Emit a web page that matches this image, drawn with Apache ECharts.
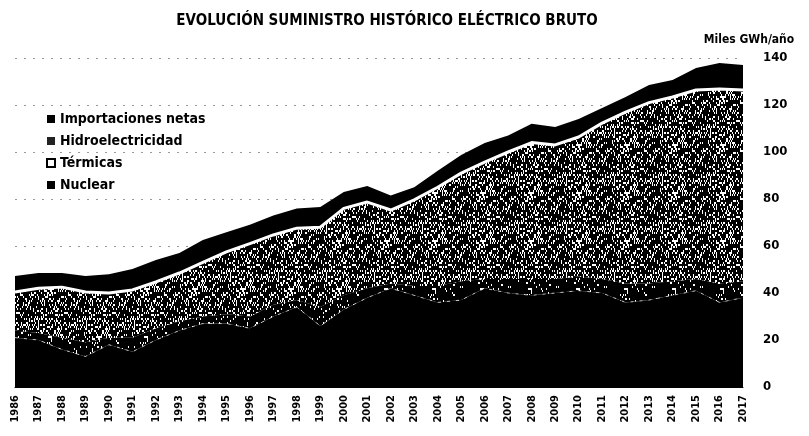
<!DOCTYPE html>
<html>
<head>
<meta charset="utf-8">
<script src="https://cdn.jsdelivr.net/npm/echarts@6/dist/echarts.min.js"></script>
<style>
html,body{margin:0;padding:0;background:#fff;}
#js-chart{width:809px;height:436px;}
</style>
</head>
<body>
<div id="js-chart"></div>
<script>
var years = ['1986','1987','1988','1989','1990','1991','1992','1993','1994','1995','1996','1997','1998','1999','2000','2001','2002','2003','2004','2005','2006','2007','2008','2009','2010','2011','2012','2013','2014','2015','2016','2017'];

// Miles GWh/año
var nuclear = [21,20,16,13,18,15,20,24,27,27,25,30,34,26,33,38,42,39,36,37,42,40,39,40,41,40,36,37,39,41,36,38];
var termicas = [3,3,5,6,3,6,5,4,3,4,5,5,3,8,6,4,2,4,7,8,4,6,7,6,6,6,8,7,6,5,8,7];
var hidro = [16.4,19,21.5,21.4,19,20.3,19.7,20.5,23,26.5,31,29.7,30.6,34,37,36.7,31.3,36.6,42,46,49.7,54,58,57,59.4,66.3,73,77,78.4,80.4,82.8,81.4];
var importaciones = [6.8,6.5,6,6.8,8,8.9,9.3,8.5,9.6,8.3,8,8.3,8.4,8.6,7,6.8,6.2,5.4,7,7.7,8.1,7,8,7.6,7.6,6.4,6.4,7.5,7.2,9.3,11.1,10.6];

var yTicks = [0,20,40,60,80,100,120,140];

initChart();

// trama de puntos blancos sobre negro (patrón fijo, no son datos)
function makePattern(density){
	var n = 48;
	var c = document.createElement('canvas');
	c.width = n; c.height = n;
	var ctx = c.getContext('2d');
	ctx.fillStyle = '#000';
	ctx.fillRect(0, 0, n, n);
	ctx.fillStyle = '#fff';
	for (var i = 0; i < n; i++) {
		for (var j = 0; j < n; j += 2) {
			var h = ((i * 374761393) ^ (j * 668265263)) >>> 0;
			h = ((h ^ (h >>> 13)) * 1274126177) >>> 0;
			if ((h % 100) < density) {
				ctx.fillRect(i, j, 1, 2);
			}
		}
	}
	return c;
}

function initChart(){
	var font = "'Liberation Sans Narrow','DejaVu Sans Condensed','Liberation Sans',sans-serif";
	var chart = echarts.init(document.getElementById('js-chart'));
	var option = {
		animation: false,
		backgroundColor: '#fff',
		title: {
			text: 'EVOLUCIÓN SUMINISTRO HISTÓRICO ELÉCTRICO BRUTO',
			left: 382,
			top: 9,
			textAlign: 'center',
			textStyle: {fontFamily: font, fontSize: 15, fontWeight: 'bold', color: '#000'}
		},
		legend: {
			orient: 'vertical',
			left: 41,
			top: 107,
			itemWidth: 8,
			itemHeight: 8,
			itemGap: 8,
			textStyle: {fontFamily: font, fontSize: 14, fontWeight: 'bold', color: '#000'},
			data: [
				{name: 'Importaciones netas', icon: 'rect', itemStyle: {color: '#000'}},
				{name: 'Hidroelectricidad', icon: 'rect', itemStyle: {color: '#222'}},
				{name: 'Térmicas', icon: 'rect', itemStyle: {color: '#fff', borderColor: '#000', borderWidth: 2}},
				{name: 'Nuclear', icon: 'rect', itemStyle: {color: '#000'}}
			]
		},
		grid: {left: 15, right: 66, top: 58, bottom: 49},
		xAxis: {
			type: 'category',
			data: years,
			boundaryGap: false,
			axisLine: {lineStyle: {color: '#000'}},
			axisTick: {show: false},
			axisLabel: {rotate: 90, interval: 0, margin: 8, fontFamily: font, fontSize: 11, fontWeight: 'bold', color: '#000'}
		},
		yAxis: {
			type: 'value',
			position: 'right',
			min: yTicks[0],
			max: yTicks[yTicks.length - 1],
			interval: 20,
			name: 'Miles GWh/año',
			nameLocation: 'end',
			nameGap: 12,
			nameTextStyle: {fontFamily: font, fontSize: 12, fontWeight: 'bold', color: '#000', align: 'center', padding: [0, 0, 0, 12]},
			axisLine: {show: false},
			axisTick: {show: false},
			axisLabel: {margin: 20, fontFamily: font, fontSize: 13, fontWeight: 'bold', color: '#000'},
			splitLine: {lineStyle: {color: '#999', type: [2, 7], width: 1}}
		},
		series: [
			{
				name: 'Nuclear', type: 'line', stack: 'total', data: nuclear,
				symbol: 'none', z: 2,
				lineStyle: {color: '#fff', width: 1, type: [3, 6], opacity: 0.7},
				itemStyle: {color: '#000'},
				areaStyle: {color: '#000', opacity: 1}
			},
			{
				name: 'Térmicas', type: 'line', stack: 'total', data: termicas,
				symbol: 'none', z: 2,
				lineStyle: {width: 0},
				itemStyle: {color: '#000'},
				areaStyle: {color: {image: makePattern(6), repeat: 'repeat'}, opacity: 1}
			},
			{
				name: 'Hidroelectricidad', type: 'line', stack: 'total', data: hidro,
				symbol: 'none', z: 3,
				lineStyle: {color: '#fff', width: 3},
				itemStyle: {color: '#000'},
				areaStyle: {color: {image: makePattern(24), repeat: 'repeat'}, opacity: 1}
			},
			{
				name: 'Importaciones netas', type: 'line', stack: 'total', data: importaciones,
				symbol: 'none', z: 2,
				lineStyle: {width: 0},
				itemStyle: {color: '#000'},
				areaStyle: {color: '#000', opacity: 1}
			}
		]
	};
	chart.setOption(option);
}
</script>
</body>
</html>
